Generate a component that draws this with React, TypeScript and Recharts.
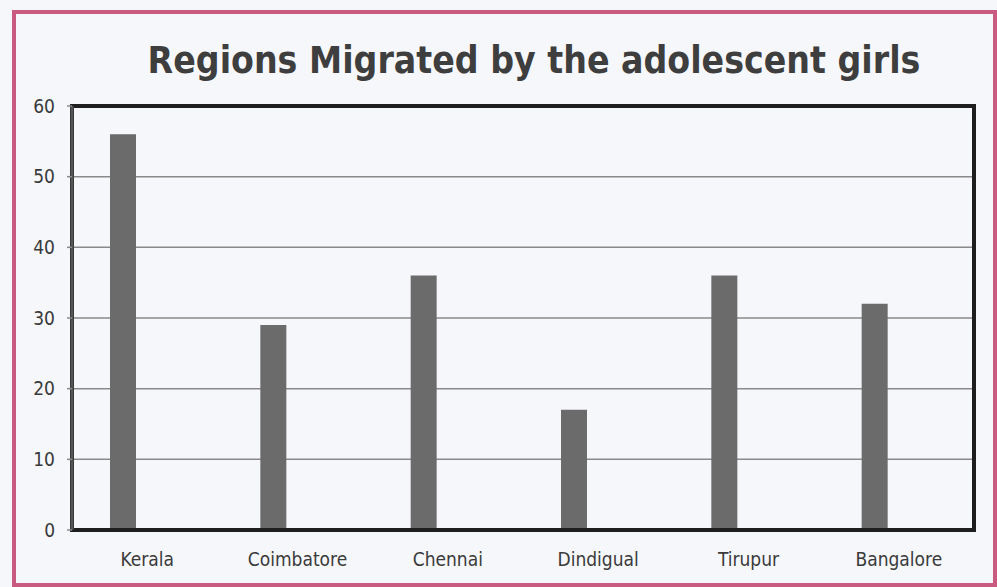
import React from 'react';
import { BarChart, Bar, XAxis, YAxis, CartesianGrid, ReferenceArea } from 'recharts';

const REGIONS = ['Kerala', 'Coimbatore', 'Chennai', 'Dindigual', 'Tirupur', 'Bangalore'];
const GIRLS = [56, 29, 36, 17, 36, 32];
// the source chart keeps an empty second series, which pushes the bars left of each label
const SERIES_2 = [null, null, null, null, null, null];
const Y_TICKS = [0, 10, 20, 30, 40, 50, 60];

const FONT = '"DejaVu Sans Condensed", "DejaVu Sans", sans-serif';
const BG = '#f6f7fb';

const data = REGIONS.map((region, i) => ({ region, girls: GIRLS[i], series2: SERIES_2[i] }));

export default function App() {
  return (
    <div style={{ position: 'absolute', left: 0, top: 0, width: 997, height: 587, background: BG, fontFamily: FONT }}>
      <div
        style={{
          position: 'absolute',
          left: 12,
          top: 10,
          width: 977,
          height: 569,
          border: '4px solid #c95a80',
        }}
      />
      <div
        style={{
          position: 'absolute',
          left: 0,
          top: 39,
          width: 1068,
          textAlign: 'center',
          fontSize: 37,
          fontWeight: 'bold',
          color: '#3e3e3e',
          fontFamily: FONT,
        }}
      >
        Regions Migrated by the adolescent girls
      </div>
      <div style={{ position: 'absolute', left: 0, top: 0 }}>
        <BarChart width={997} height={587} data={data} barGap={22} margin={{ top: 106, right: 23, left: 32, bottom: 27 }}>
          <CartesianGrid vertical={false} stroke="#8a8a8a" strokeWidth={1.5} />
          <ReferenceArea y1={0} y2={60} fill="none" stroke="#1e1e1e" strokeWidth={4} ifOverflow="visible" />
          <XAxis
            dataKey="region"
            height={30}
            axisLine={{ stroke: '#1e1e1e', strokeWidth: 4 }}
            tickLine={false}
            tickMargin={17}
            tick={{ fontSize: 19, fill: '#3a3a3a', fontFamily: FONT }}
          />
          <YAxis
            width={40}
            domain={[0, 60]}
            ticks={Y_TICKS}
            interval={0}
            axisLine={{ stroke: '#555', strokeWidth: 3 }}
            tickLine={{ stroke: '#8a8a8a', strokeWidth: 1.5 }}
            tickSize={5}
            tickMargin={12}
            tick={{ fontSize: 19, fill: '#3a3a3a', fontFamily: FONT }}
          />
          <Bar dataKey="girls" fill="#6b6b6b" barSize={26} isAnimationActive={false} />
          <Bar dataKey="series2" fill="#6b6b6b" barSize={26} isAnimationActive={false} />
        </BarChart>
      </div>
    </div>
  );
}
